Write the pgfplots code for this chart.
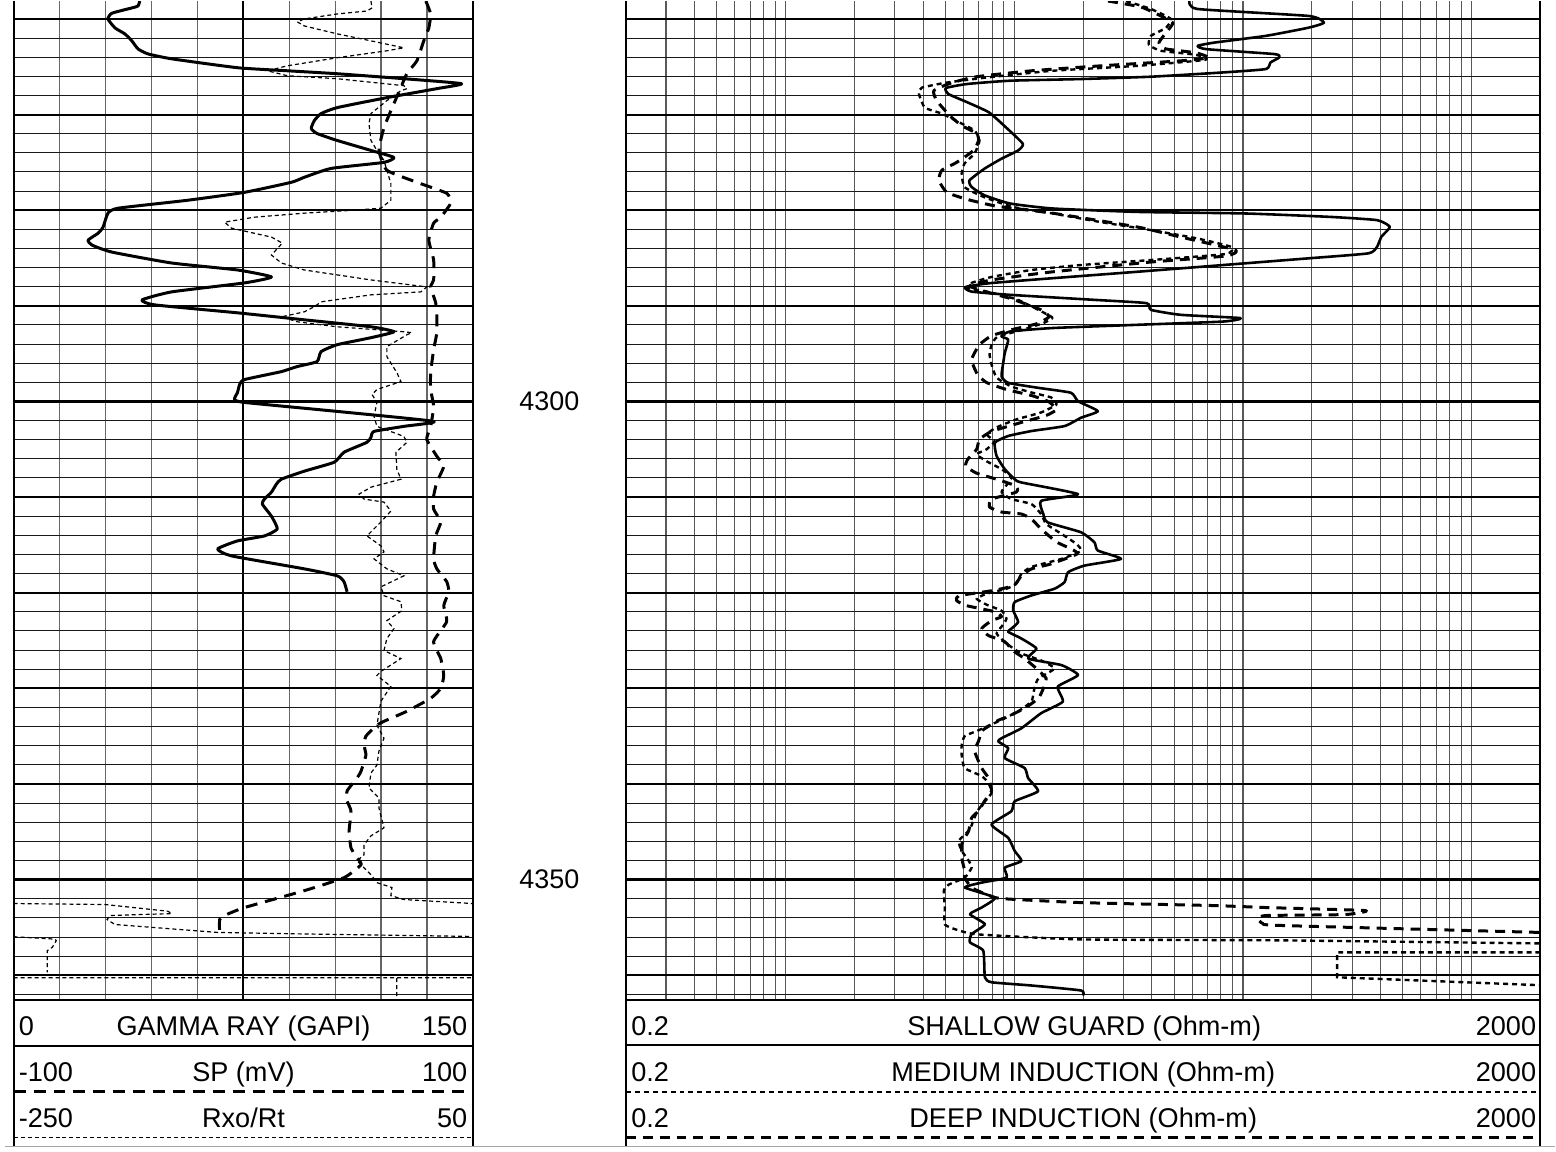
\documentclass[border=0pt]{standalone}
\usepackage{pgfplots}
\pgfplotsset{compat=1.18}
\usepackage{fontspec}
\setmainfont{Liberation Sans}
\begin{document}
\begin{tikzpicture}
\pgfplotsset{
  trk/.style={scale only axis, anchor=south west, height=501.5pt,
    y dir=reverse, ymin=4258.125, ymax=4362.6,
    axis line style={draw=none}, major tick length=0pt, minor tick length=0pt,
    xticklabels={}, yticklabels={}, extra x tick labels={}, extra y tick labels={},
    unbounded coords=jump},
  ltrack/.style={trk, at={(4.15pt,-501.5pt)}, width=230.5pt},
  rtrack/.style={trk, at={(311.35pt,-501.5pt)}, width=459.15pt, xmin=0.2, xmax=2000},
  hgrid/.style={xtick=\empty, ytick={4260,4270,...,4360}, minor ytick={4262,4264,4266,4268,4272,4274,4276,4278,4282,4284,4286,4288,4292,4294,4296,4298,4302,4304,4306,4308,4312,4314,4316,4318,4322,4324,4326,4328,4332,4334,4336,4338,4342,4344,4346,4348,4352,4354,4356,4358,4362},
    ymajorgrids, yminorgrids, major grid style={black, line width=1pt}, minor grid style={black!90, line width=0.5pt},
    extra y ticks={4300,4350}, extra y tick style={major grid style={black,line width=1.3pt}}},
  crv/.style={black, smooth, tension=0.3, line join=round},
}
\begin{scope}[x=0.5pt,y=-0.5pt]
\useasboundingbox (0,0) rectangle (1556,1155);
\fill[white] (0,0) rectangle (1556,1155);
\end{scope}
% ---------- LEFT TRACK GRID ----------
\begin{axis}[ltrack, xmin=0, xmax=150, xtick={15,30,...,135}, ytick=\empty, xmajorgrids,
  major grid style={black!60, line width=0.6pt},
  extra x ticks={75}, extra x tick style={major grid style={black,line width=0.9pt}}]
\addplot[draw=none] coordinates {(75,4300)};
\end{axis}
\begin{axis}[ltrack, xmin=0, xmax=150, hgrid]
\addplot[draw=none] coordinates {(75,4300)};
\end{axis}
% ---------- RIGHT TRACK GRID ----------
\begin{axis}[xmode=log, rtrack, xtick={0.3,0.4,0.5,0.6,0.7,0.8,0.9,1,2,3,4,5,6,7,8,9,10,20,30,40,50,60,70,80,90,100,200,300,400,500,600,700,800,900,1000},
  ytick=\empty, xmajorgrids, major grid style={black!65, line width=0.55pt}]
\addplot[draw=none] coordinates {(1,4300)};
\end{axis}
\begin{axis}[xmode=log, rtrack, hgrid]
\addplot[draw=none] coordinates {(1,4300)};
\end{axis}
% ---------- Rxo/Rt ----------
\begin{axis}[ltrack, xmin=-250, xmax=50, xtick=\empty, ytick=\empty]
\addplot[black, line width=0.6pt, dash pattern=on 2pt off 1.5pt] coordinates {
(-16.6,4258.13) (-15.9,4258.85) (-19.2,4259.17) (-38.7,4259.48) (-60.2,4260.00) (-64.7,4260.31) (-60.2,4260.73) (-38.7,4261.56) (-16.6,4262.29) (4.9,4263.02) (-6.2,4263.33) (-38.7,4264.06) (-71.2,4264.90) (-84.3,4265.42) (-71.2,4265.94) (-38.7,4266.25) (4.9,4266.98) (6.9,4267.29) (3.0,4267.50) (-6.2,4268.54) (-16.6,4269.90) (-17.9,4270.94) (-16.6,4272.71) (-12.7,4273.75) (-8.1,4274.79) (-6.2,4275.83) (-3.6,4277.19) (-3.6,4278.96) (-10.1,4279.79) (-27.6,4280.00) (-60.2,4280.31) (-92.7,4280.73) (-112.2,4281.25) (-107.7,4281.88) (-81.6,4282.81) (-74.5,4283.44) (-81.6,4284.69) (-75.1,4285.52) (-60.2,4286.25) (-16.6,4287.29) (19.9,4288.02) (16.0,4288.54) (-16.6,4288.85) (-49.1,4289.58) (-53.7,4290.10) (-60.2,4290.63) (-75.1,4291.15) (-64.7,4291.67) (-38.7,4292.19) (4.9,4292.71) (10.1,4292.81) (6.9,4293.02) (-6.2,4294.27) (-6.2,4295.31) (0.3,4296.98) (3.0,4297.92) (-12.7,4298.75) (-15.9,4299.27) (-12.7,4300.10) (-14.6,4301.56) (-12.7,4302.60) (4.9,4303.65) (6.9,4304.27) (-0.3,4305.31) (0.3,4307.08) (3.0,4308.13) (-16.6,4308.96) (-24.4,4309.69) (-21.1,4310.21) (-8.1,4310.52) (-3.6,4311.46) (-10.1,4312.60) (-19.2,4314.06) (-10.1,4315.10) (-8.1,4315.73) (-14.6,4316.46) (-6.2,4317.50) (4.9,4318.23) (-10.1,4319.38) (-8.1,4320.31) (3.0,4320.94) (3.6,4321.88) (-6.2,4322.92) (-1.6,4323.75) (-6.2,4324.79) (-8.1,4326.04) (3.0,4326.88) (-10.1,4328.23) (-12.7,4328.65) (-3.6,4329.79) (-10.1,4331.35) (-12.7,4333.85) (-8.1,4335.21) (-11.4,4336.56) (-12.7,4338.02) (-16.6,4338.85) (-17.9,4340.42) (-11.4,4341.46) (-11.4,4342.50) (-8.1,4344.58) (-16.6,4345.42) (-21.1,4346.35) (-21.1,4347.40) (-25.7,4348.02) (-16.6,4349.48) (-12.7,4350.31) (-2.9,4350.83) (-3.6,4351.67) (4.9,4352.08) (50,4352.50)
(nan,nan)
(-250,4352.50) (-190.3,4352.60) (-149.3,4353.30) (-146.7,4353.55) (-187.1,4353.75) (-189.0,4354.17) (-183.8,4354.69) (-116.8,4355.52) (-60.2,4355.68) (50,4355.94)
(nan,nan)
(-250,4355.97) (-222.9,4356.22) (-222.2,4356.39) (-224.8,4357.08) (-228.1,4357.43) (-228.1,4359.69)
(nan,nan)
(-250,4360.26) (50,4360.26)
(nan,nan)
(0.3,4360.31) (0.3,4362.6)
};
\end{axis}
% ---------- SP ----------
\begin{axis}[ltrack, xmin=-100, xmax=100, xtick=\empty, ytick=\empty]
\addplot[crv, line width=1.5pt, dash pattern=on 6pt off 4pt] coordinates {
(79.5,4258.13) (81.6,4259.48) (80.8,4260.94) (78.6,4262.29) (75.6,4264.38) (71.2,4265.73) (68.6,4267.19) (65.6,4268.85) (61.3,4271.35) (59.1,4273.75) (62.6,4275.83) (75.6,4277.08) (88.6,4278.23) (90.3,4279.27) (86.0,4280.73) (82.9,4281.35) (80.8,4283.13) (82.9,4285.21) (82.9,4287.29) (81.6,4288.02) (83.8,4289.69) (84.3,4291.15) (84.3,4292.81) (82.9,4294.58) (81.6,4296.98) (81.6,4298.75) (82.9,4300.52) (81.6,4302.60) (79.9,4303.96) (84.3,4305.73) (87.3,4306.77) (84.3,4308.44) (82.9,4309.90) (82.9,4311.25) (86.0,4312.60) (83.8,4314.06) (82.9,4316.46) (84.3,4317.50) (88.6,4318.85) (89.5,4319.90) (87.3,4321.35) (88.6,4323.02) (82.9,4325.10) (86.0,4326.88) (87.3,4328.65) (86.0,4330.00) (81.6,4331.04) (71.2,4332.40) (61.3,4333.44) (58.2,4333.85) (53.4,4335.00) (52.6,4335.94) (53.4,4336.98) (51.3,4338.65) (49.5,4339.38) (45.2,4340.73) (45.2,4341.77) (46.9,4342.81) (46.1,4344.90) (46.9,4346.67) (49.5,4347.71) (51.3,4348.44) (43.9,4349.79) (26.6,4351.15) (0.5,4352.92) (-8.2,4353.75) (-10.3,4354.17) (-10.3,4355.83)
};
\end{axis}
% ---------- GAMMA RAY ----------
\begin{axis}[ltrack, xmin=0, xmax=150, xtick=\empty, ytick=\empty]
\addplot[crv, line width=1.5pt] coordinates {
(41.2,4258.13) (40.6,4258.65) (38.6,4258.85) (32.1,4259.40) (30.8,4260.00) (33.1,4260.94) (36.3,4261.56) (38.6,4262.29) (40.6,4263.13) (43.8,4263.65) (51.6,4264.17) (73.1,4265.10) (89.4,4265.42) (105.7,4265.73) (127.5,4266.25) (146.3,4266.77) (138.2,4267.29) (121.9,4268.23) (105.7,4269.27) (100.4,4269.90) (98.2,4270.63) (97.2,4271.46) (99.1,4271.98) (105.7,4272.71) (116.7,4273.75) (124.2,4274.48) (120.9,4275.00) (103.7,4275.63) (94.9,4276.56) (90.7,4277.08) (75.4,4278.13) (56.8,4278.96) (34.1,4279.79) (30.8,4280.31) (29.2,4281.77) (27.6,4282.40) (24.3,4283.13) (25.6,4283.65) (32.1,4284.38) (51.6,4285.52) (73.1,4286.25) (84.2,4286.98) (75.4,4287.60) (51.6,4288.54) (41.9,4289.38) (46.1,4289.90) (73.1,4290.73) (94.9,4291.46) (116.7,4292.19) (124.2,4292.71) (116.7,4293.33) (105.7,4294.06) (100.4,4294.79) (99.1,4295.83) (92.6,4296.35) (87.4,4296.88) (75.4,4297.71) (73.8,4298.23) (73.1,4299.06) (72.1,4299.79) (75.4,4300.10) (105.7,4301.04) (137.2,4302.08) (127.5,4302.60) (117.7,4303.13) (116.7,4303.75) (115.4,4304.27) (107.9,4305.31) (104.7,4306.35) (94.9,4307.29) (87.4,4308.13) (85.8,4308.65) (84.2,4309.48) (81.9,4310.21) (81.2,4310.73) (84.2,4312.00) (86.1,4313.33) (81.9,4314.06) (73.1,4314.58) (66.6,4315.42) (71.2,4316.15) (94.9,4317.50) (105.7,4318.23) (107.9,4318.85) (108.9,4319.90)
};
\end{axis}
% ---------- RESISTIVITY ----------
\begin{axis}[xmode=log, rtrack, xtick=\empty, ytick=\empty]
% deep induction
\addplot[crv, line width=1.5pt, dash pattern=on 5pt off 3.5pt] coordinates {
(25.7,4258.13) (35.8,4258.75) (43.8,4259.69) (49.4,4260.42) (46.0,4261.46) (42.9,4262.50) (46.0,4263.13) (62.2,4263.54) (70.8,4264.06) (53.5,4264.38) (24.0,4264.90) (11.9,4265.42) (6.85,4266.04) (5.33,4266.67) (4.45,4267.50) (4.58,4268.54) (5.22,4270.10) (5.89,4271.15) (6.85,4271.98) (6.98,4272.71) (6.64,4273.75) (5.60,4275.00) (4.82,4275.83) (4.68,4276.88) (5.07,4278.13) (6.19,4278.85) (8.37,4279.58) (14.7,4280.31) (34.8,4281.77) (53.5,4282.81) (92.8,4284.17) (84.0,4284.79) (39.6,4285.42) (14.5,4286.46) (7.96,4287.29) (6.38,4287.92) (7.57,4288.54) (9.72,4289.27) (13.1,4290.42) (14.2,4291.15) (12.5,4291.88) (9.72,4292.50) (7.96,4293.13) (7.05,4294.06) (6.51,4295.63) (6.91,4297.19) (7.57,4298.02) (9.25,4298.75) (11.9,4299.38) (14.1,4300.00) (15.3,4300.83) (13.8,4301.46) (10.75,4302.19) (7.96,4303.13) (7.05,4303.96) (6.85,4305.00) (6.26,4306.04) (6.13,4306.77) (6.85,4307.50) (8.37,4308.13) (10.2,4308.85) (10.2,4309.48) (7.96,4310.21) (7.80,4311.04) (8.80,4311.56) (10.75,4311.77) (11.9,4312.29) (13.1,4313.33) (15.3,4314.69) (17.75,4315.42) (18.85,4315.94) (14.5,4316.98) (11.9,4317.50) (10.75,4318.23) (9.92,4319.27) (7.96,4319.79) (5.72,4320.31) (5.60,4320.83) (6.19,4321.35) (8.20,4321.98) (8.80,4322.50) (7.96,4322.92) (7.20,4323.75) (7.72,4324.48) (9.06,4325.10) (10.0,4326.15) (11.1,4326.88) (12.5,4327.92) (13.8,4328.96) (13.4,4330.00) (12.75,4331.04) (11.1,4332.08) (9.43,4332.92) (8.53,4333.33) (7.72,4333.96) (7.20,4334.48) (6.98,4335.52) (6.71,4336.56) (7.20,4338.33) (7.72,4339.38) (7.96,4340.73) (7.42,4341.77) (6.98,4342.81) (6.51,4343.54) (6.32,4344.90) (6.07,4345.63) (5.89,4346.35) (5.89,4347.71) (6.07,4349.06) (6.07,4349.79) (6.51,4350.83) (7.57,4351.56) (8.80,4351.98) (19.6,4352.40) (74.5,4352.71) (127,4352.92) (342,4353.23) (280,4353.65) (127,4353.75) (116,4354.06) (122,4354.58) (146,4354.79) (2000,4355.52)
};
% medium induction
\addplot[crv, line width=1.2pt, dash pattern=on 2.5pt off 2pt] coordinates {
(30.8,4258.13) (39.6,4258.96) (48.4,4260.00) (46.0,4260.94) (39.6,4261.77) (38.8,4262.71) (43.8,4263.33) (62.2,4263.75) (68.7,4264.27) (34.8,4264.90) (14.7,4265.42) (7.42,4266.15) (5.02,4266.67) (3.94,4267.19) (3.83,4267.81) (4.06,4269.27) (4.82,4269.90) (5.89,4270.94) (6.71,4271.67) (7.05,4272.71) (6.71,4274.06) (6.07,4275.10) (5.89,4276.15) (6.07,4277.60) (7.42,4278.65) (10.0,4279.69) (14.5,4280.31) (24.0,4281.25) (39.6,4282.08) (62.2,4282.92) (89.2,4283.85) (84.0,4284.58) (39.6,4285.21) (19.6,4285.73) (11.9,4286.25) (7.96,4286.98) (6.51,4287.60) (6.26,4288.13) (8.04,4288.65) (10.4,4289.38) (13.5,4290.73) (14.7,4291.25) (13.5,4291.77) (10.9,4292.50) (8.45,4293.23) (7.96,4294.06) (7.80,4295.10) (7.96,4296.15) (8.37,4297.50) (9.72,4298.44) (11.9,4299.06) (14.5,4299.58) (15.3,4300.31) (13.1,4301.15) (10.2,4301.88) (8.37,4302.71) (7.57,4303.44) (8.20,4304.17) (7.57,4305.00) (6.85,4305.52) (7.57,4306.25) (8.80,4307.08) (9.72,4307.92) (9.25,4308.75) (8.80,4309.48) (9.72,4310.21) (11.9,4310.73) (13.1,4311.77) (13.8,4312.81) (16.1,4313.85) (18.7,4314.90) (19.6,4315.63) (16.1,4316.46) (11.9,4317.29) (10.75,4318.02) (10.2,4319.06) (9.25,4319.58) (7.57,4320.10) (6.85,4320.63) (7.57,4321.25) (8.80,4321.88) (9.25,4322.71) (8.80,4323.54) (8.37,4324.27) (9.25,4325.31) (10.75,4326.35) (13.1,4327.08) (15.0,4327.92) (12.75,4328.96) (12.25,4330.00) (11.9,4331.35) (10.4,4332.40) (8.53,4333.44) (6.98,4334.38) (6.07,4335.00) (5.89,4335.94) (5.89,4336.98) (6.07,4338.33) (7.20,4339.17) (7.72,4339.90) (7.96,4340.94) (7.34,4341.98) (6.91,4342.81) (6.64,4343.75) (6.38,4344.79) (5.72,4345.94) (5.89,4346.98) (6.32,4348.02) (6.51,4348.75) (6.07,4349.79) (5.17,4350.52) (4.92,4351.15) (4.97,4352.92) (4.97,4354.69) (5.72,4355.31) (6.98,4355.73) (19.6,4356.25) (146,4356.35) (2000,4356.67)
};
\addplot[black, line width=1.2pt, dash pattern=on 2.5pt off 2pt] coordinates {
(2000,4357.60) (258,4357.60) (258,4360.21) (2000,4361.04)
};
% shallow guard
\addplot[crv, line width=1.3pt] coordinates {
(58.3,4258.13) (63.4,4258.96) (194,4259.69) (226,4260.39) (194,4260.91) (126,4261.77) (75.2,4262.47) (63.4,4262.81) (69.2,4263.16) (138,4263.68) (144,4264.03) (132,4264.55) (126,4265.24) (82.3,4265.59) (39.6,4266.04) (19.9,4266.28) (9.59,4266.46) (6.24,4266.80) (5.03,4267.22) (5.14,4267.84) (6.24,4268.72) (7.74,4269.76) (9.18,4271.32) (10.9,4273.05) (10.4,4273.75) (8.80,4274.61) (7.41,4275.66) (6.37,4276.88) (6.51,4277.57) (7.41,4278.44) (9.59,4279.30) (14.7,4279.82) (34.8,4280.18) (102,4280.34) (241,4280.70) (386,4281.04) (439,4281.74) (403,4282.78) (386,4283.82) (354,4284.51) (194,4285.03) (82.3,4285.73) (34.8,4286.43) (14.7,4287.11) (7.74,4287.64) (6.10,4288.05) (6.51,4288.51) (9.59,4288.85) (22.6,4289.38) (37.9,4289.72) (39.6,4290.42) (53.5,4290.94) (97.6,4291.28) (82.3,4291.64) (34.8,4291.98) (14.7,4292.32) (9.59,4292.68) (8.80,4293.20) (9.41,4293.54) (9.09,4294.93) (8.95,4295.97) (8.80,4297.37) (9.41,4298.05) (12.7,4298.57) (17.7,4299.09) (19.0,4299.97) (23.2,4301.01) (19.6,4301.70) (16.6,4302.57) (11.9,4303.09) (9.41,4303.61) (8.23,4304.30) (8.37,4305.70) (9.09,4307.08) (10.05,4308.13) (10.75,4308.47) (19.0,4309.69) (13.1,4310.39) (13.4,4311.77) (14.0,4312.64) (19.6,4313.68) (22.4,4314.72) (23.2,4315.59) (29.3,4316.46) (20.3,4317.16) (17.2,4317.85) (16.6,4318.89) (15.0,4319.58) (11.9,4320.28) (10.05,4320.97) (9.89,4321.84) (10.4,4323.05) (9.72,4323.75) (9.41,4324.09) (10.75,4324.79) (12.5,4325.83) (11.5,4326.88) (16.1,4327.57) (19.0,4328.61) (15.5,4329.82) (16.3,4331.39) (13.1,4332.60) (10.75,4334.17) (8.80,4335.21) (8.51,4335.55) (9.41,4336.25) (9.09,4337.29) (11.1,4338.33) (11.5,4339.38) (12.7,4340.76) (10.05,4341.80) (9.72,4342.84) (7.96,4344.24) (9.41,4345.63) (10.05,4347.01) (10.75,4348.05) (9.09,4348.75) (9.25,4349.79) (7.20,4350.31) (6.09,4350.83) (8.23,4351.88) (7.20,4352.92) (6.40,4353.61) (7.44,4354.66) (6.51,4355.70) (6.40,4356.56) (7.32,4357.43) (7.44,4360.21) (7.96,4360.73) (11.9,4361.07) (19.6,4361.59) (19.95,4362.11)
};
\end{axis}
% ---------- FRAME, DEPTHS, HEADER ----------
\begin{scope}[x=0.5pt,y=-0.5pt]
\draw[line width=1pt] (8.3,0) -- (8.3,1150);
\draw[line width=1pt] (469.3,0) -- (469.3,1150);
\draw[line width=1pt] (622.7,0) -- (622.7,1150);
\draw[line width=1pt] (1541,0) -- (1541,1150);
\draw[line width=1pt] (8.3,1003) -- (469.3,1003);
\draw[line width=1pt] (622.7,1003) -- (1541,1003);
\draw[black!35, line width=0.6pt] (0,1150) -- (1556,1150);
\node[font=\fontsize{13.5}{16}\selectfont, inner sep=0pt] at (546,402) {4300};
\node[font=\fontsize{13.5}{16}\selectfont, inner sep=0pt] at (546,882) {4350};
\begin{scope}[every node/.style={font=\fontsize{13.6}{16}\selectfont, inner sep=0pt}]
\node[anchor=base west] at (13,1039) {0};
\node[anchor=base] at (239,1039) {GAMMA RAY (GAPI)};
\node[anchor=base east] at (464,1039) {150};
\node[anchor=base west] at (13,1085) {-100};
\node[anchor=base] at (239,1085) {SP (mV)};
\node[anchor=base east] at (464,1085) {100};
\node[anchor=base west] at (13,1131) {-250};
\node[anchor=base] at (239,1131) {Rxo/Rt};
\node[anchor=base east] at (464,1131) {50};
\node[anchor=base west] at (628,1039) {0.2};
\node[anchor=base] at (1083,1039) {SHALLOW GUARD (Ohm-m)};
\node[anchor=base east] at (1537,1039) {2000};
\node[anchor=base west] at (628,1085) {0.2};
\node[anchor=base] at (1082,1085) {MEDIUM INDUCTION (Ohm-m)};
\node[anchor=base east] at (1537,1085) {2000};
\node[anchor=base west] at (628,1131) {0.2};
\node[anchor=base] at (1082,1131) {DEEP INDUCTION (Ohm-m)};
\node[anchor=base east] at (1537,1131) {2000};
\end{scope}
\draw[line width=1.4pt] (8.3,1049) -- (469.3,1049);
\draw[line width=1.5pt, dash pattern=on 6pt off 4pt] (8.3,1095) -- (469.3,1095);
\draw[line width=0.6pt, dash pattern=on 2pt off 1.5pt] (8.3,1141) -- (469.3,1141);
\draw[line width=1.4pt] (622.7,1048) -- (1541,1048);
\draw[line width=1.2pt, dash pattern=on 2.5pt off 2pt] (622.7,1095) -- (1541,1095);
\draw[line width=1.5pt, dash pattern=on 5pt off 3.5pt] (622.7,1141) -- (1541,1141);
\end{scope}
\end{tikzpicture}
\end{document}
